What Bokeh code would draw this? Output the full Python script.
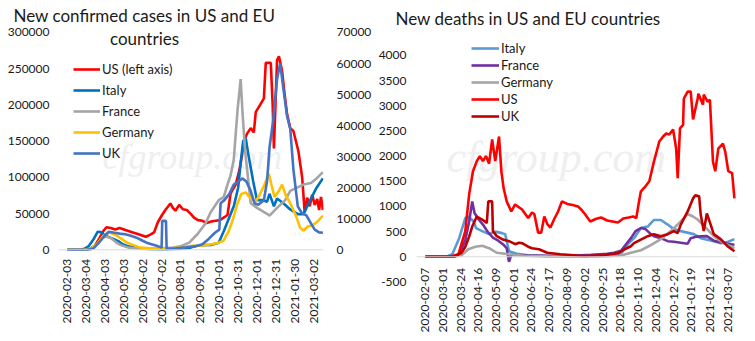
import math
import pandas as pd
from bokeh.plotting import figure
from bokeh.layouts import row
from bokeh.core.properties import value
from bokeh.models import (Range1d, LinearAxis, FixedTicker, Legend, LegendItem, Label, Span,
                          NumeralTickFormatter)
from bokeh.embed import file_html
from bokeh.resources import INLINE

FONT = "Lato"
TXT = "#1a1a1a"

# ---------------- left chart: new confirmed cases ----------------
left_title_1 = "New confirmed cases in US and EU"
left_title_2 = "countries"
left_ticks = ["2020-02-03", "2020-03-04", "2020-04-03", "2020-05-03", "2020-06-02", "2020-07-02",
              "2020-08-01", "2020-09-01", "2020-10-01", "2020-10-31", "2020-12-01", "2020-12-31",
              "2021-01-30", "2021-03-02"]
left_y_ticks = [0, 50000, 100000, 150000, 200000, 250000, 300000]
right_y_ticks_cases = [0, 10000, 20000, 30000, 40000, 50000, 60000, 70000]

us_cases_dates = ["2020-02-03", "2020-02-29", "2020-03-10", "2020-03-18", "2020-03-25", "2020-04-01",
                  "2020-04-05", "2020-04-12", "2020-04-19", "2020-04-26", "2020-05-03", "2020-05-10",
                  "2020-05-17", "2020-05-24", "2020-05-31", "2020-06-07", "2020-06-14", "2020-06-20",
                  "2020-06-26", "2020-07-02", "2020-07-08", "2020-07-16", "2020-07-20", "2020-07-24",
                  "2020-07-30", "2020-08-05", "2020-08-11", "2020-08-17", "2020-08-23", "2020-08-29",
                  "2020-09-05", "2020-09-12", "2020-09-19", "2020-09-26", "2020-10-03", "2020-10-10",
                  "2020-10-15", "2020-10-20", "2020-10-28", "2020-11-03", "2020-11-07", "2020-11-10",
                  "2020-11-15", "2020-11-21", "2020-11-26", "2020-11-29", "2020-12-06", "2020-12-12",
                  "2020-12-15", "2020-12-23", "2020-12-26", "2020-12-28", "2021-01-02", "2021-01-05",
                  "2021-01-10", "2021-01-14", "2021-01-18", "2021-01-23", "2021-01-28", "2021-02-05",
                  "2021-02-11", "2021-02-15", "2021-02-19", "2021-02-23", "2021-02-27", "2021-03-03",
                  "2021-03-07", "2021-03-10", "2021-03-13", "2021-03-16"]
us_cases = [0, 0, 1000, 6000, 16000, 27000,
            31000, 30000, 28000, 30000, 28000, 26000,
            24000, 22000, 20000, 18000, 21000, 24000,
            38000, 47000, 55000, 64000, 58000, 54000,
            62000, 56000, 55000, 50000, 44000, 41000,
            40000, 37000, 39000, 40000, 41000, 45000,
            48000, 78000, 90000, 110000, 130000, 150000,
            160000, 168000, 162000, 190000, 200000, 209000,
            258000, 258000, 200000, 140000, 262000, 267000,
            247000, 215000, 187000, 168000, 164000, 136000,
            100000, 52000, 72000, 60000, 76000, 62000,
            70000, 55000, 73000, 55000]

italy_cases_dates = ["2020-02-03", "2020-02-24", "2020-03-01", "2020-03-08", "2020-03-15", "2020-03-22",
                     "2020-03-27", "2020-04-03", "2020-04-10", "2020-04-17", "2020-04-24", "2020-05-01",
                     "2020-05-10", "2020-05-20", "2020-06-01", "2020-06-15", "2020-07-01", "2020-07-20",
                     "2020-08-01", "2020-08-15", "2020-08-25", "2020-09-05", "2020-09-20", "2020-10-01",
                     "2020-10-09", "2020-10-17", "2020-10-25", "2020-11-01", "2020-11-05", "2020-11-09",
                     "2020-11-13", "2020-11-17", "2020-11-25", "2020-12-01", "2020-12-10", "2020-12-17",
                     "2020-12-21", "2020-12-28", "2021-01-02", "2021-01-12", "2021-01-23", "2021-02-04",
                     "2021-02-13", "2021-02-25", "2021-03-06", "2021-03-16"]
italy_cases = [0, 0, 300, 1200, 3200, 5800,
               5700, 4600, 4000, 3400, 2800, 1800,
               1100, 700, 400, 300, 200, 250,
               350, 600, 1200, 1500, 1600, 2300,
               6000, 10000, 14000, 20000, 28000, 35000,
               36000, 31000, 22000, 16000, 16000, 15500,
               18000, 14000, 16500, 15000, 13000, 11500,
               11500, 16500, 20000, 23000]

france_cases_dates = ["2020-02-03", "2020-02-29", "2020-03-10", "2020-03-20", "2020-03-28", "2020-04-04",
                      "2020-04-12", "2020-04-20", "2020-04-28", "2020-05-10", "2020-05-25", "2020-06-10",
                      "2020-07-01", "2020-07-20", "2020-08-01", "2020-08-15", "2020-08-28", "2020-09-10",
                      "2020-09-18", "2020-10-01", "2020-10-09", "2020-10-15", "2020-10-20", "2020-10-25",
                      "2020-10-31", "2020-11-05", "2020-11-08", "2020-11-12", "2020-11-21", "2020-12-01",
                      "2020-12-17", "2020-12-21", "2021-01-02", "2021-01-15", "2021-01-23", "2021-02-13",
                      "2021-02-25", "2021-03-06", "2021-03-16"]
france_cases = [0, 0, 300, 1500, 3500, 4300,
                3800, 2500, 1500, 700, 400, 300,
                450, 700, 1100, 2300, 5000, 8500,
                12000, 16000, 17000, 21000, 24000, 29000,
                45000, 55000, 44000, 32000, 15000, 13500,
                11600, 11000, 13500, 16000, 19000, 21000,
                21500, 23000, 25000]

germany_cases_dates = ["2020-02-03", "2020-03-01", "2020-03-12", "2020-03-22", "2020-03-31", "2020-04-10",
                       "2020-04-22", "2020-05-08", "2020-05-29", "2020-06-20", "2020-07-20", "2020-08-05",
                       "2020-08-20", "2020-09-05", "2020-09-20", "2020-10-01", "2020-10-09", "2020-10-17",
                       "2020-10-24", "2020-10-31", "2020-11-06", "2020-11-13", "2020-11-21", "2020-11-29",
                       "2020-12-06", "2020-12-13", "2020-12-20", "2020-12-24", "2020-12-29", "2021-01-05",
                       "2021-01-10", "2021-01-16", "2021-01-23", "2021-02-01", "2021-02-08", "2021-02-13",
                       "2021-02-20", "2021-02-28", "2021-03-07", "2021-03-16"]
germany_cases = [0, 50, 300, 2000, 4500, 5600,
                 4500, 2300, 700, 400, 500, 800,
                 1300, 1400, 1800, 2300, 3000, 6000,
                 10000, 15000, 18000, 18500, 16500, 15500,
                 18000, 21000, 24500, 21000, 17000, 19000,
                 21000, 17500, 15000, 11000, 7000, 6200,
                 7500, 8000, 9000, 11000]

uk_cases_dates = ["2020-02-03", "2020-03-05", "2020-03-15", "2020-03-25", "2020-04-02", "2020-04-09",
                  "2020-04-18", "2020-04-26", "2020-05-05", "2020-05-14", "2020-05-23", "2020-06-01",
                  "2020-06-08", "2020-06-16", "2020-06-24", "2020-07-02", "2020-07-03", "2020-07-09",
                  "2020-07-10", "2020-07-25", "2020-08-10", "2020-08-25", "2020-09-05", "2020-09-15",
                  "2020-09-25", "2020-10-02", "2020-10-04", "2020-10-10", "2020-10-18", "2020-10-25",
                  "2020-11-01", "2020-11-08", "2020-11-14", "2020-11-21", "2020-11-27", "2020-12-03",
                  "2020-12-12", "2020-12-17", "2020-12-21", "2020-12-27", "2021-01-02", "2021-01-07",
                  "2021-01-12", "2021-01-18", "2021-01-23", "2021-01-28", "2021-02-04", "2021-02-10",
                  "2021-02-18", "2021-02-25", "2021-03-03", "2021-03-10", "2021-03-16"]
uk_cases = [0, 0, 400, 2500, 4500, 5800,
            5500, 5200, 5000, 4500, 3900, 3000,
            2300, 1800, 1300, 700, 9300, 9300,
            300, 500, 800, 1100, 1800, 3500,
            5500, 6500, 15000, 16000, 18000, 21000,
            22000, 23000, 22000, 19000, 15000, 14500,
            16000, 22000, 33000, 42000, 55000, 60000,
            52000, 43000, 39000, 26000, 14000, 12000,
            11000, 8500, 6500, 5600, 5500]

# ---------------- right chart: new deaths ----------------
right_title = "New deaths in US and EU countries"
right_ticks = ["2020-02-07", "2020-03-01", "2020-03-24", "2020-04-16", "2020-05-09", "2020-06-01",
               "2020-06-24", "2020-07-17", "2020-08-09", "2020-09-02", "2020-09-25", "2020-10-18",
               "2020-11-10", "2020-12-04", "2020-12-27", "2021-01-19", "2021-02-12", "2021-03-07"]
deaths_y_ticks = [-500, 0, 500, 1000, 1500, 2000, 2500, 3000, 3500, 4000]

italy_deaths_dates = ["2020-02-07", "2020-03-05", "2020-03-13", "2020-03-22", "2020-03-30", "2020-04-03",
                      "2020-04-10", "2020-04-13", "2020-04-21", "2020-04-30", "2020-05-08", "2020-05-17",
                      "2020-05-21", "2020-05-26", "2020-06-05", "2020-06-20", "2020-07-15", "2020-08-15",
                      "2020-09-15", "2020-10-10", "2020-10-20", "2020-10-28", "2020-11-05", "2020-11-14",
                      "2020-11-23", "2020-11-27", "2020-12-01", "2020-12-10", "2020-12-19", "2020-12-27",
                      "2021-01-05", "2021-01-22", "2021-01-31", "2021-02-17", "2021-02-26", "2021-03-08",
                      "2021-03-16"]
italy_deaths = [0, 0, 50, 370, 770, 800,
                700, 570, 510, 450, 500, 470,
                450, 110, 60, 30, 15, 10,
                15, 30, 80, 250, 370, 570,
                600, 670, 730, 730, 640, 550,
                510, 450, 370, 310, 270, 300,
                350]

france_deaths_dates = ["2020-02-07", "2020-03-15", "2020-03-22", "2020-03-30", "2020-04-04", "2020-04-08",
                       "2020-04-11", "2020-04-16", "2020-04-22", "2020-04-28", "2020-05-05", "2020-05-12",
                       "2020-05-18", "2020-05-23", "2020-05-26", "2020-05-29", "2020-06-15", "2020-07-15",
                       "2020-08-15", "2020-09-10", "2020-10-01", "2020-10-10", "2020-10-19", "2020-11-01",
                       "2020-11-07", "2020-11-14", "2020-11-20", "2020-11-27", "2020-12-01", "2020-12-10",
                       "2020-12-19", "2020-12-27", "2021-01-05", "2021-01-14", "2021-01-18", "2021-01-25",
                       "2021-02-08", "2021-02-17", "2021-03-01", "2021-03-07", "2021-03-16"]
france_deaths = [0, 0, 50, 330, 700, 1100,
                 870, 750, 640, 500, 380, 320,
                 250, 170, -100, 40, 30, 20,
                 20, 40, 60, 80, 120, 370,
                 510, 570, 550, 450, 410, 370,
                 310, 300, 280, 260, 370, 400,
                 410, 320, 280, 260, 240]

germany_deaths_dates = ["2020-02-07", "2020-03-15", "2020-03-25", "2020-04-03", "2020-04-12", "2020-04-21",
                        "2020-04-30", "2020-05-10", "2020-05-26", "2020-06-15", "2020-07-15", "2020-09-01",
                        "2020-10-01", "2020-10-20", "2020-11-01", "2020-11-14", "2020-11-27", "2020-12-10",
                        "2020-12-23", "2021-01-01", "2021-01-08", "2021-01-14", "2021-01-21", "2021-01-27",
                        "2021-02-09", "2021-02-17", "2021-03-02", "2021-03-16"]
germany_deaths = [0, 0, 30, 150, 200, 220,
                  170, 80, 50, 20, 8, 5,
                  10, 30, 80, 130, 230, 350,
                  510, 640, 750, 850, 800, 740,
                  540, 410, 270, 170]

us_deaths_dates = ["2020-02-07", "2020-03-10", "2020-03-21", "2020-03-30", "2020-04-04", "2020-04-09",
                   "2020-04-14", "2020-04-18", "2020-04-22", "2020-04-26", "2020-04-30", "2020-05-04",
                   "2020-05-08", "2020-05-13", "2020-05-16", "2020-05-19", "2020-05-23", "2020-05-29",
                   "2020-06-03", "2020-06-12", "2020-06-20", "2020-06-25", "2020-06-28", "2020-07-03",
                   "2020-07-07", "2020-07-11", "2020-07-15", "2020-07-19", "2020-07-24", "2020-07-29",
                   "2020-08-03", "2020-08-10", "2020-08-17", "2020-08-24", "2020-08-28", "2020-09-02",
                   "2020-09-09", "2020-09-16", "2020-09-23", "2020-10-01", "2020-10-08", "2020-10-15",
                   "2020-10-22", "2020-10-29", "2020-11-04", "2020-11-08", "2020-11-11", "2020-11-14",
                   "2020-11-20", "2020-11-25", "2020-12-01", "2020-12-08", "2020-12-13", "2020-12-17",
                   "2020-12-21", "2020-12-26", "2020-12-30", "2021-01-01", "2021-01-04", "2021-01-08",
                   "2021-01-09", "2021-01-14", "2021-01-18", "2021-01-21", "2021-01-27", "2021-01-28",
                   "2021-02-03", "2021-02-04", "2021-02-09", "2021-02-12", "2021-02-16", "2021-02-19",
                   "2021-02-23", "2021-03-01", "2021-03-04", "2021-03-08", "2021-03-13", "2021-03-16"]
us_deaths = [0, 0, 50, 510, 1240, 1700,
             1900, 2000, 1900, 2000, 1850, 2330,
             1900, 2390, 1700, 1360, 1100, 900,
             1040, 940, 770, 880, 850, 480,
             480, 800, 650, 580, 750, 900,
             1100, 1050, 1030, 1000, 940, 850,
             700, 750, 780, 720, 700, 680,
             760, 780, 800, 770, 1050, 1300,
             1400, 1500, 1890, 2290, 2390, 2450,
             2430, 2530, 2150, 1560, 2550, 2620,
             3140, 3280, 3280, 2730, 3140, 3240,
             3020, 3220, 3080, 3120, 1890, 1700,
             2150, 2250, 2090, 1700, 1660, 1160]

uk_deaths_dates = ["2020-02-07", "2020-03-15", "2020-03-25", "2020-03-30", "2020-04-04", "2020-04-08",
                   "2020-04-14", "2020-04-21", "2020-04-27", "2020-04-29", "2020-05-04", "2020-05-05",
                   "2020-05-10", "2020-05-17", "2020-05-26", "2020-06-03", "2020-06-08", "2020-06-12",
                   "2020-06-20", "2020-06-25", "2020-07-04", "2020-07-15", "2020-08-01", "2020-09-01",
                   "2020-09-25", "2020-10-15", "2020-10-24", "2020-11-01", "2020-11-05", "2020-11-14",
                   "2020-11-23", "2020-12-01", "2020-12-10", "2020-12-19", "2020-12-27", "2021-01-01",
                   "2021-01-05", "2021-01-14", "2021-01-21", "2021-01-24", "2021-01-29", "2021-01-31",
                   "2021-02-04", "2021-02-08", "2021-02-13", "2021-02-17", "2021-02-26", "2021-03-07",
                   "2021-03-16"]
uk_deaths = [0, 0, 80, 200, 400, 600,
             800, 740, 670, 1100, 1100, 510,
             410, 350, 310, 250, 280, 270,
             200, 170, 150, 80, 50, 15,
             30, 70, 150, 210, 270, 340,
             410, 450, 410, 450, 510, 470,
             640, 900, 1160, 1220, 1200, 840,
             510, 860, 640, 450, 350, 210,
             110]

watermark = "cfgroup.com"


def to_dt(lst):
    return pd.to_datetime(lst)


def style_axis(ax, size="12px"):
    ax.major_tick_line_color = None
    ax.minor_tick_line_color = None
    ax.axis_line_color = None
    ax.major_label_text_font = FONT
    ax.major_label_text_font_size = size
    ax.major_label_text_color = TXT


def base_fig(width, title, x0, x1, y0, y1, mb):
    p = figure(width=width, height=341, output_backend="svg", toolbar_location=None,
               x_axis_type="datetime", title=title,
               x_range=Range1d(pd.Timestamp(x0), pd.Timestamp(x1)),
               y_range=Range1d(y0, y1),
               min_border_left=mb[0], min_border_right=mb[1], min_border_top=mb[2], min_border_bottom=mb[3])
    p.xgrid.visible = False
    p.ygrid.visible = False
    p.outline_line_color = None
    p.background_fill_color = "white"
    p.border_fill_color = "white"
    p.title.text_font = FONT
    p.title.text_font_size = "17px"
    p.title.text_font_style = "normal"
    p.title.text_color = TXT
    p.title.align = "left"
    p.xaxis[0].visible = False
    return p


def date_labels(p, ticks, offset):
    # tick labels hung below the zero line, one per tick date
    p.text(x=to_dt(ticks), y=[0] * len(ticks), text=ticks,
           angle=math.pi / 2, text_align="right", text_baseline="middle", y_offset=offset,
           text_font=value(FONT), text_font_size="12px", text_color=TXT)


LW = 2.6

# ---------- left figure ----------
pl = base_fig(375, left_title_1, "2020-01-19 17:00", "2021-03-17", -126606, 305505, (58, 52, 27, 0))
pl.title.offset = -45
pl.title.standoff = 5
pl.extra_y_ranges = {"r": Range1d(-29541, 71284)}

pl.add_layout(Label(x=44, y=165, x_units="screen", y_units="screen", text=watermark,
                    text_font="Liberation Serif", text_font_style="italic", text_font_size="36px",
                    text_color="#EFEFEF", level="underlay"))
pl.add_layout(Span(location=0, dimension="width", line_color="#D9D9D9", line_width=1))

r_us = pl.line(to_dt(us_cases_dates), us_cases, line_color="#FF0000", line_width=LW)
r_it = pl.line(to_dt(italy_cases_dates), italy_cases, line_color="#0070C0", line_width=LW, y_range_name="r")
r_fr = pl.line(to_dt(france_cases_dates), france_cases, line_color="#A5A5A5", line_width=LW, y_range_name="r")
r_de = pl.line(to_dt(germany_cases_dates), germany_cases, line_color="#FFC000", line_width=LW, y_range_name="r")
r_uk = pl.line(to_dt(uk_cases_dates), uk_cases, line_color="#4472C4", line_width=LW, y_range_name="r")

style_axis(pl.yaxis[0])
pl.yaxis[0].ticker = FixedTicker(ticks=left_y_ticks)
pl.yaxis[0].formatter = NumeralTickFormatter(format="0")
pl.yaxis[0].major_label_standoff = 3

ax_r = LinearAxis(y_range_name="r", ticker=FixedTicker(ticks=right_y_ticks_cases),
                  formatter=NumeralTickFormatter(format="0"))
style_axis(ax_r)
ax_r.major_label_standoff = 7
pl.add_layout(ax_r, "right")

date_labels(pl, left_ticks, 9)

leg_l = Legend(items=[LegendItem(label="US (left axis)", renderers=[r_us]),
                      LegendItem(label="Italy", renderers=[r_it]),
                      LegendItem(label="France", renderers=[r_fr]),
                      LegendItem(label="Germany", renderers=[r_de]),
                      LegendItem(label="UK", renderers=[r_uk])],
               location=(15, 180), padding=0, margin=0, spacing=5,
               glyph_width=27, glyph_height=14, label_height=14, label_standoff=2,
               label_text_font=FONT, label_text_font_size="13px", label_text_color=TXT,
               background_fill_alpha=0, border_line_alpha=0)
pl.add_layout(leg_l)

pl.add_layout(Label(x=86, y=303, x_units="screen", y_units="screen", text=left_title_2,
                    text_align="center", text_baseline="alphabetic", text_font=FONT,
                    text_font_size="17px", text_color=TXT))

# ---------- right figure ----------
pr = base_fig(380, right_title, "2020-01-26 08:00", "2021-03-20", -1683, 4535, (39, 18, 27, 0))
pr.title.offset = -21
pr.title.standoff = 0

pr.add_layout(Label(x=30, y=160, x_units="screen", y_units="screen", text=watermark,
                    text_font="Liberation Serif", text_font_style="italic", text_font_size="44px",
                    text_color="#EFEFEF", level="underlay"))
pr.add_layout(Span(location=0, dimension="width", line_color="#D9D9D9", line_width=1))

d_it = pr.line(to_dt(italy_deaths_dates), italy_deaths, line_color="#5B9BD5", line_width=LW)
d_fr = pr.line(to_dt(france_deaths_dates), france_deaths, line_color="#7030A0", line_width=LW)
d_de = pr.line(to_dt(germany_deaths_dates), germany_deaths, line_color="#A5A5A5", line_width=LW)
d_us = pr.line(to_dt(us_deaths_dates), us_deaths, line_color="#FF0000", line_width=LW)
d_uk = pr.line(to_dt(uk_deaths_dates), uk_deaths, line_color="#C00000", line_width=LW)

style_axis(pr.yaxis[0])
pr.yaxis[0].ticker = FixedTicker(ticks=deaths_y_ticks)
pr.yaxis[0].formatter = NumeralTickFormatter(format="0")
pr.yaxis[0].major_label_standoff = 4

date_labels(pr, right_ticks, 11)

leg_r = Legend(items=[LegendItem(label="Italy", renderers=[d_it]),
                      LegendItem(label="France", renderers=[d_fr]),
                      LegendItem(label="Germany", renderers=[d_de]),
                      LegendItem(label="US", renderers=[d_us]),
                      LegendItem(label="UK", renderers=[d_uk])],
               location=(55, 217), padding=0, margin=0, spacing=1,
               glyph_width=28, glyph_height=14, label_height=14, label_standoff=2,
               label_text_font=FONT, label_text_font_size="13px", label_text_color=TXT,
               background_fill_alpha=0, border_line_alpha=0)
pr.add_layout(leg_r)

layout = row(pl, pr)
open("out.html", "w").write(file_html(layout, INLINE))
